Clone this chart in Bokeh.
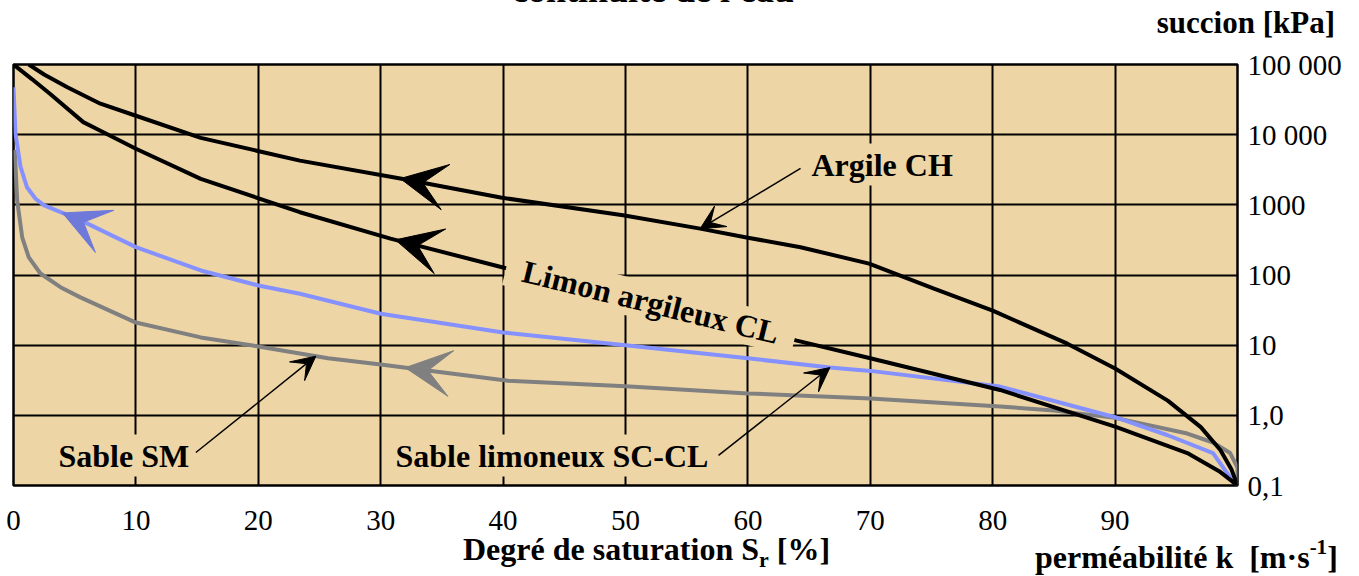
import numpy as np
from bokeh.plotting import figure
from bokeh.layouts import column
from bokeh.models import FixedTicker, Label, Arrow, VeeHead, Range1d, Div
from bokeh.embed import file_html
from bokeh.resources import INLINE

# ---------------- data ----------------
# Argile CH
sat_ch = [1.25, 2.5, 4.4, 7.1, 10.0, 15.3, 23.4, 31.6, 39.8, 49.8, 56.1, 60.0, 64.3, 69.9,
          75.2, 80.0, 86.1, 90.0, 94.3, 97.0, 98.6, 99.5, 100.0]
suc_ch = [100000, 72000, 47400, 27600, 18600, 9000, 4270, 2370, 1270, 710, 458, 340, 249, 145,
          64, 31, 10.5, 4.65, 1.62, 0.68, 0.32, 0.17, 0.1]
# Limon argileux CL
sat_cl = [0.0, 1.5, 3.0, 5.7, 7.1, 10.0, 15.3, 23.4, 30.8, 40.0, 50.0, 57.0, 64.0, 70.0,
          80.6, 90.0, 95.9, 98.5, 100.0]
suc_cl = [100000, 62000, 38000, 15100, 11400, 6300, 2340, 785, 330, 128, 47, 23, 11.6, 6.5,
          2.3, 0.69, 0.29, 0.16, 0.1]
# Sable limoneux SC-CL
sat_sc = [0.0, 0.16, 0.57, 1.1, 1.8, 2.5, 5.5, 10.0, 15.3, 20.0, 23.4, 30.0, 40.0,
          50.0, 60.0, 66.7, 70.0, 80.6, 90.0, 94.3, 98.0, 99.4, 100.0]
suc_sc = [47400, 10500, 3500, 1780, 1220, 980, 600, 250, 116, 71, 54, 28, 15.2,
          10.0, 6.5, 4.8, 4.3, 2.57, 0.94, 0.52, 0.29, 0.13, 0.1]
# Sable SM
sat_sm = [0.1, 0.3, 0.71, 1.25, 2.2, 3.84, 5.47, 10.0, 15.3, 20.0, 25.7, 30.0, 40.4,
          50.0, 60.0, 70.0, 80.6, 85.0, 90.0, 95.9, 98.0, 99.4, 100.0, 100.0]
suc_sm = [6080, 1150, 345, 178, 105, 67, 48, 21, 12.9, 9.6, 6.5, 5.3, 3.1,
          2.6, 2.05, 1.74, 1.34, 1.17, 0.92, 0.55, 0.41, 0.29, 0.18, 0.1]

x_ticks = [0, 10, 20, 30, 40, 50, 60, 70, 80, 90]
y_ticks = [0.1, 1, 10, 100, 1000, 10000, 100000]
y_tick_labels = ["0,1", "1,0", "10", "100", "1000", "10 000", "100 000"]

# positions (in saturation %) of the direction arrowheads drawn on each curve
head_s = {"ch": 31.6, "cl": 31.2, "sc": 4.0, "sm": 32.0}

# ---------------- styling ----------------
TAN = "#EED5A5"
BLUE = "#8491FF"
BLUE_DARK = "#6E79DA"
GREY = "#808080"
FONT = "Liberation Serif"
W = 1359
TOP_H = 48
MAIN_H = 489
OVERLAP = 10
BOT_H = 576 - TOP_H - MAIN_H + OVERLAP

p = figure(width=W, height=MAIN_H,
           x_range=Range1d(0, 100), y_range=Range1d(0.1, 100000),
           y_axis_type="log", y_axis_location="right",
           output_backend="svg", toolbar_location=None,
           min_border_left=13, min_border_right=122,
           min_border_top=16, min_border_bottom=52,
           background_fill_color=TAN, border_fill_color="white",
           outline_line_color="black", outline_line_width=2.5)

# axes
xa = p.xaxis[0]
xa.ticker = FixedTicker(ticks=x_ticks)
ya = p.yaxis[0]
ya.ticker = FixedTicker(ticks=y_ticks)
ya.major_label_overrides = {t: l for t, l in zip(y_ticks, y_tick_labels)}
for ax, st in ((xa, 19), (ya, 4)):
    ax.major_label_text_font = FONT
    ax.major_label_text_font_size = "29px"
    ax.major_label_text_color = "black"
    ax.major_tick_line_color = None
    ax.minor_tick_line_color = None
    ax.axis_line_color = None
    ax.major_label_standoff = st

# grid
p.xgrid.ticker = FixedTicker(ticks=x_ticks[1:])
p.ygrid.ticker = FixedTicker(ticks=y_ticks[1:-1])
for g in (p.xgrid[0], p.ygrid[0]):
    g.grid_line_color = "black"
    g.grid_line_width = 2
    g.grid_line_alpha = 1.0
p.xgrid.minor_grid_line_color = None
p.ygrid.minor_grid_line_color = None

# curves
p.line(sat_sm, suc_sm, line_color=GREY, line_width=4)
p.line(sat_sc, suc_sc, line_color=BLUE, line_width=4)
p.line(sat_cl, suc_cl, line_color="black", line_width=4)
p.line(sat_ch, suc_ch, line_color="black", line_width=4)


def on_curve(s, sat, suc):
    return 10 ** np.interp(s, sat, np.log10(suc))


# direction arrowheads on the curves (pointing towards decreasing saturation)
for key, sat, suc, col in (("ch", sat_ch, suc_ch, "black"),
                           ("cl", sat_cl, suc_cl, "black"),
                           ("sc", sat_sc, suc_sc, BLUE_DARK),
                           ("sm", sat_sm, suc_sm, GREY)):
    s0 = head_s[key]
    p.add_layout(Arrow(x_start=s0 + 2.5, y_start=on_curve(s0 + 2.5, sat, suc),
                       x_end=s0, y_end=on_curve(s0, sat, suc),
                       line_alpha=0,
                       end=VeeHead(size=46, fill_color=col, line_color=col, line_width=1)))

# pointer arrows from the labels to the curves
pointers = [((64.3, 3300), 56.1, sat_ch, suc_ch),
            ((14.9, 0.295), 24.7, sat_sm, suc_sm),
            ((57.6, 0.268), 66.7, sat_sc, suc_sc)]
for (xs, ys), s_tip, sat, suc in pointers:
    p.add_layout(Arrow(x_start=xs, y_start=ys, x_end=s_tip, y_end=on_curve(s_tip, sat, suc),
                       line_color="black", line_width=1.5,
                       end=VeeHead(size=24, fill_color="black", line_color="black", line_width=1)))

# frame origin in window pixels (for screen-unit labels inside the frame)
FL, FB = 13, 485


def lab(text, wx, wy, size, angle=0.0, pad=3):
    p.add_layout(Label(x=wx - FL, y=FB - wy, x_units="screen", y_units="screen",
                       text=text, text_font=FONT, text_font_style="bold",
                       text_font_size=f"{size}px", text_color="black",
                       text_align="left", text_baseline="alphabetic", angle=angle,
                       background_fill_color=TAN, padding=pad))


lab("Argile CH", 808, 164, 32)
lab("Sable SM", 55, 455, 32)
lab("Sable limoneux SC-CL", 392, 455, 32)
lab("\u00a0\u00a0Limon argileux CL\u00a0\u00a0", 506, 266, 32, angle=-0.241, pad=1)


# ---------------- text strips above and below the chart ----------------
def span(text, left, baseline, size, extra=""):
    top_px = baseline - 0.7375 * size
    return (f'<span style="position:absolute;left:{left}px;top:{top_px:.1f}px;'
            f'font-size:{size}px;line-height:0.8;white-space:nowrap;{extra}">{text}</span>')


def strip(h, inner, margin=0, overflow="hidden"):
    html = (f'<div style="position:relative;width:{W}px;height:{h}px;overflow:{overflow};'
            f"font-family:'{FONT}';font-weight:bold;color:black;\">{inner}</div>")
    return Div(text=html, width=W, height=h, margin=margin)


top_inner = (span("continuité de l'eau", 653, 3, 36, "transform:translateX(-50%)")
             + span("succion [kPa]", 1335, 34, 31, "transform:translateX(-100%)"))
y0 = TOP_H + MAIN_H - OVERLAP
sub_r = '<span style="font-size:22px;position:relative;top:7px">r</span>'
sup_m1 = '<span style="font-size:21px;position:relative;top:-14px">-1</span>'
bot_inner = (span(f"Degré de saturation S{sub_r} [%]", 463, 561 - y0, 32)
             + span(f"perméabilité k&nbsp;&nbsp;[m·s{sup_m1}]", 1035, 569 - y0, 32))

top = strip(TOP_H, top_inner)
bot = strip(BOT_H, bot_inner, margin=(-OVERLAP, 0, 0, 0))

layout = column(top, p, bot, spacing=0)
open("out.html", "w").write(file_html(layout, INLINE))
